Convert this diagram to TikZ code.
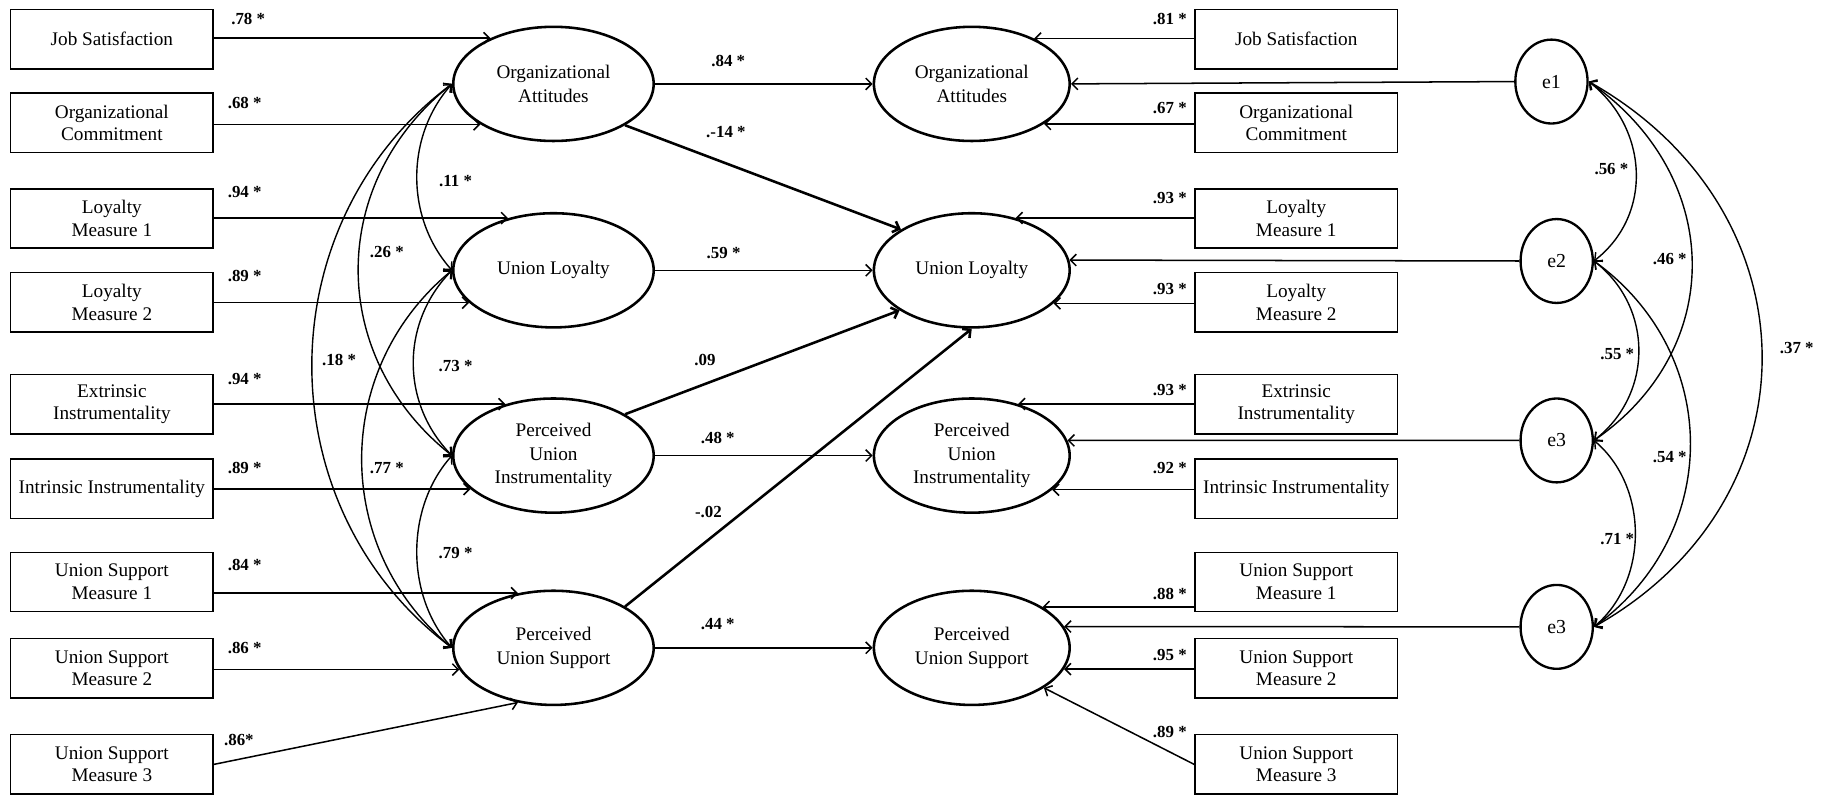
\documentclass[tikz,border=0pt]{standalone}
\usepackage{fontspec}
\setmainfont{Liberation Serif}
\usetikzlibrary{arrows.meta,shapes.geometric}
\begin{document}
\begin{tikzpicture}[x=1pt,y=-1pt,
  box/.style={draw, line width=1.3pt, minimum width=174pt, minimum height=51pt, inner sep=1pt, align=center, font=\fontsize{16.5}{19.5}\selectfont},
  lat/.style={ellipse, draw, line width=2.2pt, minimum width=172pt, minimum height=98pt, inner sep=0pt, align=center, font=\fontsize{16.5}{20}\selectfont},
  latr/.style={lat, minimum width=168pt},
  err/.style={ellipse, draw, line width=2pt, minimum width=62pt, minimum height=72pt, inner sep=0pt, font=\fontsize{17}{20}\selectfont},
  lab/.style={font=\bfseries\fontsize{14.5}{16}\selectfont, inner sep=0pt},
  tipend/.style={-{Straight Barb[length=5pt,width=10pt]}},
  arrowthin/.style={tipend, line width=1.3pt},
  arrowthick/.style={tipend, line width=2.2pt},
  cov/.style={{Straight Barb[length=5pt,width=10pt]}-{Straight Barb[length=5pt,width=10pt]}, line width=1.2pt},
]
\useasboundingbox (0,0) rectangle (1568,682);

% left boxes
\node[box] (jsl) at (96,33.5) {Job Satisfaction};
\node[box] (ocl) at (96,105.5) {Organizational\\Commitment};
\node[box] (lm1l) at (96,187.5) {Loyalty\\Measure 1};
\node[box] (lm2l) at (96,259.5) {Loyalty\\Measure 2};
\node[box] (eil) at (96,347) {Extrinsic\\Instrumentality};
\node[box] (iil) at (96,419.5) {Intrinsic Instrumentality};
\node[box] (us1l) at (96,499.5) {Union Support\\Measure 1};
\node[box] (us2l) at (96,573.5) {Union Support\\Measure 2};
\node[box] (us3l) at (96,656) {Union Support\\Measure 3};

% right boxes
\node[box] (jsr) at (1112.5,33.5) {Job Satisfaction};
\node[box] (ocr) at (1112.5,105.5) {Organizational\\Commitment};
\node[box] (lm1r) at (1112.5,187.5) {Loyalty\\Measure 1};
\node[box] (lm2r) at (1112.5,259.5) {Loyalty\\Measure 2};
\node[box] (eir) at (1112.5,347) {Extrinsic\\Instrumentality};
\node[box] (iir) at (1112.5,419.5) {Intrinsic Instrumentality};
\node[box] (us1r) at (1112.5,499.5) {Union Support\\Measure 1};
\node[box] (us2r) at (1112.5,573.5) {Union Support\\Measure 2};
\node[box] (us3r) at (1112.5,656) {Union Support\\Measure 3};

% left latent
\node[lat] (oa) at (475,72) {Organizational\\Attitudes};
\node[lat] (ul) at (475,232) {Union Loyalty};
\node[lat] (pui) at (475,391) {Perceived\\Union\\Instrumentality};
\node[lat] (pus) at (475,556) {Perceived\\Union Support};

% right latent
\node[latr] (oa2) at (834,72) {Organizational\\Attitudes};
\node[latr] (ul2) at (834,232) {Union Loyalty};
\node[latr] (pui2) at (834,391) {Perceived\\Union\\Instrumentality};
\node[latr] (pus2) at (834,556) {Perceived\\Union Support};

% errors
\node[err] (e1) at (1331.5,70) {e1};
\node[err] (e2) at (1336,224) {e2};
\node[err] (e3a) at (1336,378) {e3};
\node[err] (e3b) at (1336,538) {e3};

% left box arrows
\draw[arrowthin] (jsl.east |- oa.144) -- (oa.144);
\draw[arrowthin] (ocl.east |- oa.209) -- (oa.209);
\draw[arrowthin] (lm1l.east |- ul.131) -- (ul.131);
\draw[arrowthin] (lm2l.east |- ul.201) -- (ul.201);
\draw[arrowthin] (eil.east |- pui.133) -- (pui.133);
\draw[arrowthin] (iil.east |- pui.202) -- (pui.202);
\draw[arrowthin] (us1l.east |- pus.123) -- (pus.123);
\draw[arrowthin] (us2l.east |- pus.193) -- (pus.193);
\draw[arrowthin] (us3l.east) -- (pus.237);

% right box arrows
\draw[arrowthin] (jsr.west |- oa2.36) -- (oa2.36);
\draw[arrowthin] (ocr.west |- oa2.331) -- (oa2.331);
\draw[arrowthin] (lm1r.west |- ul2.50) -- (ul2.50);
\draw[arrowthin] (lm2r.west |- ul2.338) -- (ul2.338);
\draw[arrowthin] (eir.west |- pui2.48) -- (pui2.48);
\draw[arrowthin] (iir.west |- pui2.337) -- (pui2.337);
\draw[arrowthin] (us1r.west |- pus2.30) -- (pus2.30);
\draw[arrowthin] (us2r.west |- pus2.347) -- (pus2.347);
\draw[arrowthin] (us3r.west) -- (pus2.331);

% error arrows
\draw[arrowthin] (e1.west) -- (oa2.east);
\draw[arrowthin] (e2.west) -- (ul2.6);
\draw[arrowthin] (e3a.west) -- (pui2.9);
\draw[arrowthin] (e3b.west) -- (pus2.13);

% middle paths
\draw[arrowthin] (oa.east) -- (oa2.west);
\draw[arrowthin] (ul.east) -- (ul2.west);
\draw[arrowthin] (pui.east) -- (pui2.west);
\draw[arrowthin] (pus.east) -- (pus2.west);
\draw[arrowthick] (oa.330) -- (ul2.150);
\draw[arrowthick] (pui.30) -- (ul2.209);
\draw[arrowthick] (pus.30) -- (ul2.south);

% left covariances
\draw[cov] (oa.west) .. controls +(-40,45) and +(-40,-45) .. (ul.west);
\draw[cov] (oa.west) .. controls +(-107,85) and +(-107,-85) .. (pui.west);
\draw[cov] (oa.west) .. controls +(-160,120) and +(-160,-120) .. (pus.west);
\draw[cov] (ul.west) .. controls +(-44,45) and +(-44,-45) .. (pui.west);
\draw[cov] (ul.west) .. controls +(-103,85) and +(-103,-85) .. (pus.west);
\draw[cov] (pui.west) .. controls +(-40,45) and +(-40,-45) .. (pus.west);

% right covariances
\draw[cov] (e1.east) .. controls +(51,40) and +(51,-40) .. (e2.east);
\draw[cov] (e1.east) .. controls +(115,80) and +(115,-80) .. (e3a.east);
\draw[cov] (e1.east) .. controls +(195,110) and +(195,-110) .. (e3b.east);
\draw[cov] (e2.east) .. controls +(51,40) and +(51,-40) .. (e3a.east);
\draw[cov] (e2.east) .. controls +(110,80) and +(110,-80) .. (e3b.east);
\draw[cov] (e3a.east) .. controls +(47,40) and +(47,-40) .. (e3b.east);

% labels left boxes
\node[lab] (l1) at (213,16) {.78 *};
\node[lab] (l2) at (210,88) {.68 *};
\node[lab] (l3) at (210,165) {.94 *};
\node[lab] (l4) at (210,237) {.89 *};
\node[lab] (l5) at (210,325) {.94 *};
\node[lab] (l6) at (210,402) {.89 *};
\node[lab] (l7) at (210,485) {.84 *};
\node[lab] (l8) at (210,556) {.86 *};
\node[lab] (l9) at (205,635) {.86*};

% labels right boxes
\node[lab] (r1) at (1004,16) {.81 *};
\node[lab] (r2) at (1004,93) {.67 *};
\node[lab] (r3) at (1004,170) {.93 *};
\node[lab] (r4) at (1004,248) {.93 *};
\node[lab] (r5) at (1004,335) {.93 *};
\node[lab] (r6) at (1004,402) {.92 *};
\node[lab] (r7) at (1004,510) {.88 *};
\node[lab] (r8) at (1004,562) {.95 *};
\node[lab] (r9) at (1004,628) {.89 *};

% middle labels
\node[lab] (m1) at (625,52) {.84 *};
\node[lab] (m2) at (621,217) {.59 *};
\node[lab] (m3) at (616,376) {.48 *};
\node[lab] (m4) at (616,536) {.44 *};
\node[lab] (m5) at (623,113) {.-14 *};
\node[lab] (m6) at (605,309) {.09};
\node[lab] (m7) at (608,439) {-.02};

% left covariance labels
\node[lab] (c1) at (391,155) {.11 *};
\node[lab] (c2) at (332,216) {.26 *};
\node[lab] (c3) at (291,309) {.18 *};
\node[lab] (c4) at (391,314) {.73 *};
\node[lab] (c5) at (332,402) {.77 *};
\node[lab] (c6) at (391,475) {.79 *};

% right covariance labels
\node[lab] (d1) at (1383,145) {.56 *};
\node[lab] (d2) at (1433,222) {.46 *};
\node[lab] (d3) at (1542,299) {.37 *};
\node[lab] (d4) at (1388,304) {.55 *};
\node[lab] (d5) at (1433,392) {.54 *};
\node[lab] (d6) at (1388,463) {.71 *};
\end{tikzpicture}
\end{document}
